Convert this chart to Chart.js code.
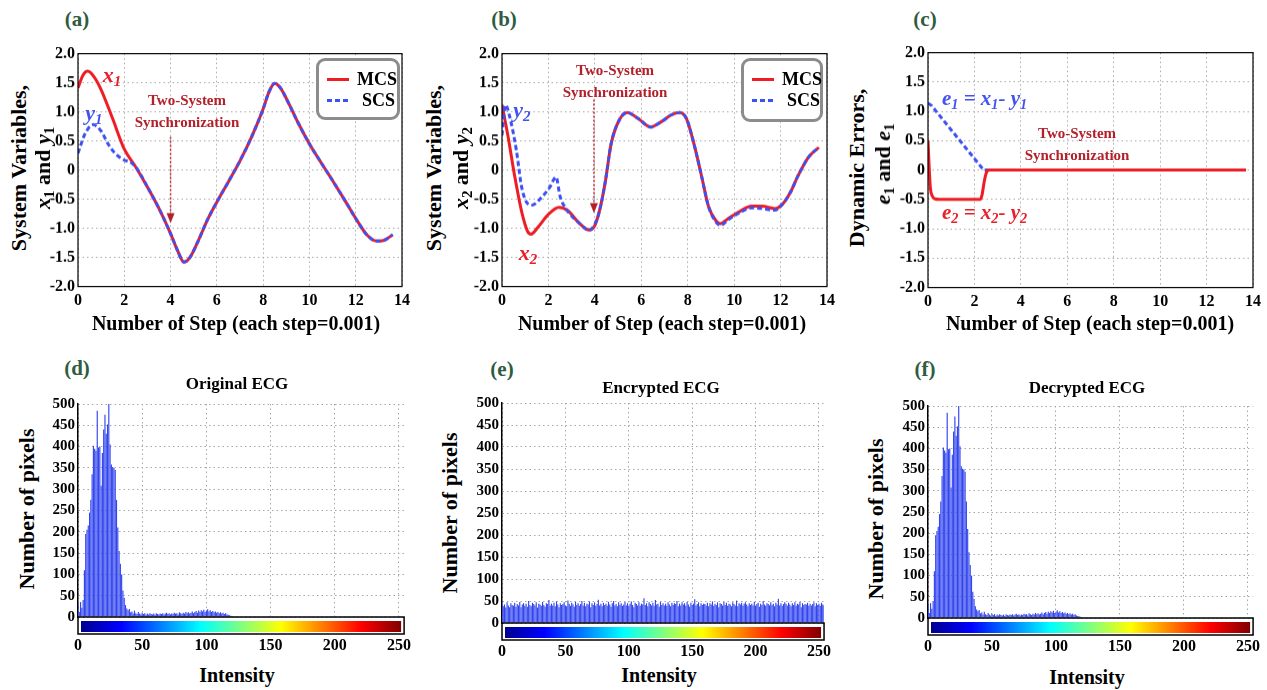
<!DOCTYPE html>
<html>
<head>
<meta charset="utf-8">
<title>Two-system synchronization and ECG histograms</title>
<script src="https://cdn.jsdelivr.net/npm/chart.js@4.4.1/dist/chart.umd.min.js"></script>
<style>
	body { margin: 0; width: 1267px; height: 690px; position: relative; overflow: hidden; background: #fff; font-family: 'Liberation Serif', 'Times New Roman', serif; }
	.wrap { position: absolute; }
	.txt { position: absolute; white-space: nowrap; font-weight: bold; line-height: 1; color: #000; transform: translate(-50%, -50%); }
	.txt.left { transform: translate(0, -50%); }
	.txt.rot { transform: translate(-50%, -50%) rotate(-90deg); }
	.tag { font-size: 21px; color: #2f5b3f; }
	.ytitle { font-size: 22px; }
	.xtitle { font-size: 20px; }
	.htitle { font-size: 17px; }
	.sync { font-size: 15px; color: #b3202a; }
	.red { color: #e8202a; font-style: italic; font-size: 22px; }
	.blue { color: #4152f0; font-style: italic; font-size: 22px; }
	.eq { font-size: 21px; }
	sub { font-size: 68%; vertical-align: -0.3em; line-height: 0; }
	.legend { position: absolute; box-sizing: border-box; border: 3px solid #8c8c8c; border-radius: 9px; background: #fff; }
	.legend .sw { position: absolute; left: 8px; width: 22px; height: 3px; }
	.legend .lab { position: absolute; font-size: 18px; font-weight: bold; line-height: 1; transform: translateY(-50%); }
</style>
</head>
<body>
<div class="wrap" id="panel-a"><canvas></canvas></div>
<div class="wrap" id="panel-b"><canvas></canvas></div>
<div class="wrap" id="panel-c"><canvas></canvas></div>
<div class="wrap" id="panel-d"><canvas></canvas></div>
<div class="wrap" id="panel-e"><canvas></canvas></div>
<div class="wrap" id="panel-f"><canvas></canvas></div>

<!-- Panel letters -->
<div class="txt tag" style="left:77px;top:19px">(a)</div>
<div class="txt tag" style="left:504px;top:19px">(b)</div>
<div class="txt tag" style="left:925px;top:19px">(c)</div>
<div class="txt tag" style="left:77px;top:368px">(d)</div>
<div class="txt tag" style="left:502px;top:369px">(e)</div>
<div class="txt tag" style="left:925px;top:369px">(f)</div>

<!-- Axis titles, top row -->
<div class="txt rot ytitle" style="left:19px;top:168px">System Variables,</div>
<div class="txt rot ytitle" style="left:43px;top:168px"><i>x</i><sub>1</sub> and <i>y</i><sub>1</sub></div>
<div class="txt rot ytitle" style="left:434px;top:168px">System Variables,</div>
<div class="txt rot ytitle" style="left:461px;top:168px"><i>x</i><sub>2</sub> and <i>y</i><sub>2</sub></div>
<div class="txt rot ytitle" style="left:857px;top:168px">Dynamic Errors,</div>
<div class="txt rot ytitle" style="left:883px;top:164px"><i>e</i><sub>1</sub> and <i>e</i><sub>1</sub></div>
<div class="txt xtitle" style="left:236px;top:323px">Number of Step (each step=0.001)</div>
<div class="txt xtitle" style="left:662px;top:323px">Number of Step (each step=0.001)</div>
<div class="txt xtitle" style="left:1090px;top:323px">Number of Step (each step=0.001)</div>

<!-- Titles, bottom row -->
<div class="txt htitle" style="left:237px;top:383px">Original ECG</div>
<div class="txt htitle" style="left:661px;top:387px">Encrypted ECG</div>
<div class="txt htitle" style="left:1087px;top:387px">Decrypted ECG</div>
<div class="txt rot ytitle" style="left:27px;top:509px">Number of pixels</div>
<div class="txt rot ytitle" style="left:450px;top:513px">Number of pixels</div>
<div class="txt rot ytitle" style="left:876px;top:519px">Number of pixels</div>
<div class="txt xtitle" style="left:237px;top:675px">Intensity</div>
<div class="txt xtitle" style="left:659px;top:675px">Intensity</div>
<div class="txt xtitle" style="left:1087px;top:677px">Intensity</div>

<script>
// Tick labels
const stepTicks = [0, 2, 4, 6, 8, 10, 12, 14];
const variableTicks = [-2, -1.5, -1, -0.5, 0, 0.5, 1, 1.5, 2];
const intensityTicks = [0, 50, 100, 150, 200, 250];
const pixelTicks = [0, 50, 100, 150, 200, 250, 300, 350, 400, 450, 500];

// Panel (a): x1 (MCS) and y1 (SCS)
const x1Steps = [0, 0.2, 0.42, 0.7, 1.0, 1.5, 2.0, 2.5, 3.0, 3.5, 4.0, 4.3, 4.58, 4.85, 5.2, 5.6, 6.0, 6.5, 7.0, 7.5, 8.0, 8.25, 8.5, 8.75, 9.1, 9.5, 10.0, 10.5, 11.0, 11.5, 12.0, 12.5, 12.9, 13.2, 13.6];
const x1Values = [1.41, 1.62, 1.70, 1.60, 1.38, 0.88, 0.36, 0.05, -0.29, -0.66, -1.09, -1.38, -1.58, -1.49, -1.21, -0.85, -0.55, -0.2, 0.16, 0.57, 1.05, 1.34, 1.49, 1.41, 1.15, 0.82, 0.45, 0.13, -0.18, -0.5, -0.83, -1.12, -1.22, -1.21, -1.11];
const y1Steps = [0, 0.3, 0.65, 1.0, 1.3, 1.6, 2.0, 2.25, 2.5, 3.0, 3.5, 4.0, 4.3, 4.58, 4.85, 5.2, 5.6, 6.0, 6.5, 7.0, 7.5, 8.0, 8.25, 8.5, 8.75, 9.1, 9.5, 10.0, 10.5, 11.0, 11.5, 12.0, 12.5, 12.9, 13.2, 13.6];
const y1Values = [0.29, 0.62, 0.78, 0.67, 0.45, 0.29, 0.17, 0.14, 0.05, -0.29, -0.66, -1.09, -1.38, -1.58, -1.49, -1.21, -0.85, -0.55, -0.2, 0.16, 0.57, 1.05, 1.34, 1.49, 1.41, 1.15, 0.82, 0.45, 0.13, -0.18, -0.5, -0.83, -1.12, -1.22, -1.21, -1.11];

// Panel (b): x2 (MCS) and y2 (SCS)
const x2Steps = [0, 0.25, 0.55, 0.85, 1.1, 1.25, 1.55, 2.0, 2.45, 2.85, 3.3, 3.75, 4.0, 4.2, 4.45, 4.7, 5.05, 5.4, 5.85, 6.4, 6.9, 7.3, 7.65, 7.95, 8.3, 8.6, 8.9, 9.2, 9.4, 9.75, 10.2, 10.75, 11.2, 11.75, 12.05, 12.4, 12.75, 13.2, 13.65];
const x2Values = [1.12, 0.6, -0.11, -0.72, -1.05, -1.1, -0.98, -0.76, -0.64, -0.7, -0.9, -1.03, -0.95, -0.7, -0.2, 0.45, 0.86, 0.99, 0.89, 0.74, 0.84, 0.95, 0.99, 0.88, 0.4, -0.11, -0.63, -0.86, -0.92, -0.83, -0.72, -0.62, -0.62, -0.66, -0.6, -0.4, -0.1, 0.22, 0.39];
const y2Steps = [0, 0.15, 0.33, 0.62, 0.85, 1.15, 1.3, 1.7, 2.05, 2.33, 2.5, 2.75, 3.3, 3.75, 4.0, 4.2, 4.45, 4.7, 5.05, 5.4, 5.85, 6.4, 6.9, 7.3, 7.65, 7.95, 8.3, 8.6, 8.9, 9.2, 9.4, 9.75, 10.2, 10.75, 11.2, 11.75, 12.05, 12.4, 12.75, 13.2, 13.65];
const y2Values = [0.6, 1.12, 0.92, 0.34, -0.3, -0.59, -0.6, -0.47, -0.3, -0.12, -0.45, -0.66, -0.9, -1.03, -0.93, -0.7, -0.2, 0.45, 0.86, 0.99, 0.89, 0.74, 0.84, 0.95, 0.99, 0.88, 0.4, -0.11, -0.63, -0.88, -0.95, -0.85, -0.74, -0.65, -0.66, -0.69, -0.6, -0.4, -0.1, 0.22, 0.39];

// Panel (c): dynamic errors
const e1Steps = [0, 0.15, 2.4, 13.7];
const e1Values = [1.14, 1.1, 0.0, 0.0];
const e2Steps = [0, 0.05, 0.1, 0.18, 0.3, 0.5, 2.25, 2.33, 2.42, 2.52, 2.65, 13.7];
const e2Values = [0.5, 0.05, -0.3, -0.44, -0.49, -0.5, -0.5, -0.42, -0.2, -0.04, 0, 0];

// Histograms, one count per intensity level starting at 0
const originalCounts = [
	30, 12, 35, 22, 40, 110, 195, 205, 215, 245, 275, 335, 402, 395, 390, 484,
	398, 400, 308, 385, 440, 475, 430, 452, 500, 405, 358, 352, 350, 345, 275, 210,
	155, 125, 100, 62, 45, 28, 20, 16, 19, 11, 13, 8, 15, 9, 7, 12,
	8, 6, 10, 7, 9, 5, 8, 6, 9, 7, 6, 8, 5, 9, 7, 6,
	8, 7, 9, 6, 8, 10, 7, 9, 6, 8, 7, 10, 8, 9, 6, 11,
	9, 7, 10, 8, 12, 9, 11, 8, 10, 13, 9, 12, 14, 10, 15, 12,
	16, 13, 17, 12, 15, 18, 13, 16, 12, 14, 11, 13, 10, 12, 9, 11,
	8, 10, 7, 9, 6, 5, 4, 3, 2, 2, 1, 1,
];
const encryptedCounts = [
	44, 38, 42, 35, 47, 40, 36, 45, 41, 39, 46, 37, 43, 40, 48, 36,
	42, 45, 39, 44, 37, 50, 41, 38, 46, 43, 40, 47, 35, 44, 42, 39,
	48, 41, 37, 45, 43, 52, 39, 44, 40, 46, 38, 49, 42, 36, 45, 41,
	43, 47, 40, 38, 51, 44, 39, 46, 42, 37, 48, 41, 45, 39, 43, 50,
	40, 46, 38, 44, 42, 49, 36, 45, 41, 47, 39, 43, 53, 40, 44, 38,
	46, 41, 44, 39, 48, 42, 37, 45, 50, 40, 43, 38, 47, 41, 45, 39,
	42, 48, 40, 45, 38, 44, 49, 41, 36, 46, 43, 40, 47, 39, 44, 42,
	56, 41, 45, 38, 47, 43, 40, 46, 39, 52, 42, 44, 37, 48, 41, 45,
	40, 44, 39, 47, 42, 38, 46, 41, 45, 43, 50, 38, 44, 40, 47, 42,
	45, 39, 48, 42, 37, 46, 41, 44, 54, 40, 43, 47, 38, 45, 41, 44,
	43, 40, 46, 38, 45, 42, 49, 39, 44, 41, 47, 36, 45, 43, 40, 48,
	41, 46, 39, 44, 42, 38, 47, 43, 40, 51, 38, 45, 42, 46, 39, 44,
	47, 42, 38, 45, 41, 44, 40, 48, 39, 43, 46, 37, 44, 41, 50, 42,
	39, 45, 43, 40, 47, 41, 44, 38, 46, 42, 55, 40, 45, 39, 43, 47,
	44, 40, 46, 42, 38, 45, 41, 47, 39, 44, 42, 48, 36, 45, 41, 43,
	42, 46, 39, 44, 40, 43, 47, 38, 45, 41, 44, 39, 46, 42, 40, 45,
];
// lossless scheme: the decrypted histogram is the original one
const decryptedCounts = originalCounts;

// Colours
const mcsRed = '#ee1c24';
const scsBlue = '#3d50f2';
const barBlue = '#3346ee';
const serif = "'Liberation Serif', 'Times New Roman', serif";

const toPoints = (xs, ys) => xs.map((x, i) => ({ x: x, y: ys[i] }));
const useTicks = (list) => (scale) => {
	scale.ticks = list.map((v) => ({ value: v }));
};

// Black box round the plot area
const framePlugin = {
	id: 'frame',
	afterDatasetsDraw(chart) {
		const { ctx, chartArea: a } = chart;
		ctx.save();
		ctx.strokeStyle = '#000';
		ctx.lineWidth = 1.2;
		ctx.strokeRect(a.left, a.top, a.right - a.left, a.bottom - a.top);
		ctx.restore();
	},
};

// Dotted arrow pointing at the synchronization moment
const arrowPlugin = {
	id: 'arrow',
	afterDatasetsDraw(chart, args, opts) {
		if (opts.at === undefined) return;
		const { ctx, scales } = chart;
		const x = scales.x.getPixelForValue(opts.at);
		const yFrom = scales.y.getPixelForValue(opts.from);
		const yTo = scales.y.getPixelForValue(opts.to);
		ctx.save();
		ctx.strokeStyle = '#b3202a';
		ctx.fillStyle = '#b3202a';
		ctx.lineWidth = 1.5;
		ctx.setLineDash([2, 2]);
		ctx.beginPath();
		ctx.moveTo(x, yFrom);
		ctx.lineTo(x, yTo - 8);
		ctx.stroke();
		ctx.setLineDash([]);
		ctx.beginPath();
		ctx.moveTo(x - 4, yTo - 10);
		ctx.lineTo(x + 4, yTo - 10);
		ctx.lineTo(x, yTo);
		ctx.closePath();
		ctx.fill();
		ctx.restore();
	},
};

// Jet colour bar under the histogram
const colorbarPlugin = {
	id: 'colorbar',
	afterDraw(chart) {
		const { ctx, chartArea: a } = chart;
		const h = 17;
		const jet = [
			[0, '#00008f'],
			[0.125, '#0000ff'],
			[0.375, '#00ffff'],
			[0.625, '#ffff00'],
			[0.875, '#ff0000'],
			[1, '#800000'],
		];
		ctx.save();
		const g = ctx.createLinearGradient(a.left + 3, 0, a.right - 3, 0);
		jet.forEach((s) => g.addColorStop(s[0], s[1]));
		ctx.fillStyle = g;
		ctx.fillRect(a.left + 3, a.bottom + 4, a.right - a.left - 6, h - 6);
		ctx.strokeStyle = '#000';
		ctx.lineWidth = 1.5;
		ctx.strokeRect(a.left, a.bottom, a.right - a.left, h);
		ctx.restore();
	},
};

const gridStyle = { color: '#a8a8a8', lineWidth: 1, drawTicks: false };
const gridBorder = { display: false, dash: [1.5, 3] };

function lineConfig(datasets, arrow) {
	return {
		type: 'line',
		data: { datasets: datasets },
		options: {
			responsive: true,
			maintainAspectRatio: false,
			animation: false,
			layout: { padding: { top: 2, right: 2, bottom: 0, left: 0 } },
			elements: {
				point: { radius: 0 },
				line: { cubicInterpolationMode: 'monotone' },
			},
			plugins: {
				legend: { display: false },
				tooltip: { enabled: false },
				arrow: arrow || {},
			},
			scales: {
				x: {
					type: 'linear',
					min: 0,
					max: 14,
					afterBuildTicks: useTicks(stepTicks),
					afterFit: (s) => {
						s.height = 30;
					},
					grid: gridStyle,
					border: gridBorder,
					ticks: { color: '#000', padding: 5, maxRotation: 0, font: { family: serif, size: 16, weight: 'bold' } },
				},
				y: {
					type: 'linear',
					min: -2,
					max: 2,
					afterBuildTicks: useTicks(variableTicks),
					afterFit: (s) => {
						s.width = 40;
					},
					grid: gridStyle,
					border: gridBorder,
					ticks: {
						color: '#000',
						padding: 3,
						font: { family: serif, size: 16, weight: 'bold' },
						callback: (v) => (v === 0 ? '0' : v.toFixed(1)),
					},
				},
			},
		},
		plugins: [framePlugin, arrowPlugin],
	};
}

function histConfig(counts) {
	return {
		type: 'bar',
		data: {
			datasets: [
				{
					data: counts.map((c, i) => ({ x: i, y: c })),
					backgroundColor: barBlue,
					borderWidth: 0,
					barPercentage: 0.9,
					categoryPercentage: 1,
				},
			],
		},
		options: {
			responsive: true,
			maintainAspectRatio: false,
			animation: false,
			layout: { padding: { top: 2, right: 2, bottom: 0, left: 0 } },
			plugins: { legend: { display: false }, tooltip: { enabled: false } },
			scales: {
				x: {
					type: 'linear',
					min: 0,
					max: 254,
					offset: false,
					afterBuildTicks: useTicks(intensityTicks),
					afterFit: (s) => {
						s.height = 40;
					},
					grid: { color: '#a8a8a8', drawTicks: false, offset: false },
					border: gridBorder,
					ticks: { color: '#000', padding: 19, maxRotation: 0, font: { family: serif, size: 16, weight: 'bold' } },
				},
				y: {
					min: 0,
					max: 500,
					afterBuildTicks: useTicks(pixelTicks),
					afterFit: (s) => {
						s.width = 38;
					},
					grid: gridStyle,
					border: { display: true, color: '#000', width: 1.5, dash: [1.5, 3] },
					ticks: { color: '#000', padding: 3, font: { family: serif, size: 15, weight: 'bold' } },
				},
			},
		},
		plugins: [colorbarPlugin],
	};
}

// Create a chart, then move and size its wrapper so the plot area sits on box
function placeChart(id, box, config) {
	const wrap = document.getElementById(id);
	wrap.style.left = box.l - 40 + 'px';
	wrap.style.top = box.t - 10 + 'px';
	wrap.style.width = box.r - box.l + 60 + 'px';
	wrap.style.height = box.b - box.t + 60 + 'px';
	const chart = new Chart(wrap.querySelector('canvas'), config);
	const a = chart.chartArea;
	const padL = a.left;
	const padT = a.top;
	const padR = chart.width - a.right;
	const padB = chart.height - a.bottom;
	wrap.style.left = box.l - padL + 'px';
	wrap.style.top = box.t - padT + 'px';
	wrap.style.width = box.r - box.l + padL + padR + 'px';
	wrap.style.height = box.b - box.t + padT + padB + 'px';
	chart.resize();
	chart.wrapLeft = box.l - padL;
	chart.wrapTop = box.t - padT;
	return chart;
}

// Text placed at data coordinates of a chart
function addNote(chart, x, y, html, cls) {
	const el = document.createElement('div');
	el.className = 'txt ' + cls;
	el.innerHTML = html;
	el.style.left = chart.wrapLeft + chart.scales.x.getPixelForValue(x) + 'px';
	el.style.top = chart.wrapTop + chart.scales.y.getPixelForValue(y) + 'px';
	document.body.appendChild(el);
}

function addLegend(left, top, width, height) {
	const box = document.createElement('div');
	box.className = 'legend';
	box.style.left = left + 'px';
	box.style.top = top + 'px';
	box.style.width = width + 'px';
	box.style.height = height + 'px';
	box.innerHTML =
		'<span class="sw" style="top:17px;background:' + mcsRed + '"></span>' +
		'<span class="lab" style="left:38px;top:18px">MCS</span>' +
		'<span class="sw" style="top:38px;background:repeating-linear-gradient(90deg,' + scsBlue + ' 0 5px,transparent 5px 8px)"></span>' +
		'<span class="lab" style="left:43px;top:39px">SCS</span>';
	document.body.appendChild(box);
}

const mcsStyle = { borderColor: mcsRed, borderWidth: 3, order: 1 };
const scsStyle = { borderColor: scsBlue, borderWidth: 3, borderDash: [5, 3], order: 0 };

// (a)
const chartA = placeChart(
	'panel-a',
	{ l: 78, t: 54, r: 402, b: 286 },
	lineConfig(
		[
			{ label: 'MCS', data: toPoints(x1Steps, x1Values), ...mcsStyle },
			{ label: 'SCS', data: toPoints(y1Steps, y1Values), ...scsStyle },
		],
		{ at: 4, from: 0.57, to: -0.91 },
	),
);
addNote(chartA, 1.47, 1.64, 'x<sub>1</sub>', 'red');
addNote(chartA, 0.69, 0.98, 'y<sub>1</sub>', 'blue');
addNote(chartA, 4.71, 1.21, 'Two-System', 'sync');
addNote(chartA, 4.71, 0.83, 'Synchronization', 'sync');
addLegend(316, 58, 84, 62);

// (b)
const chartB = placeChart(
	'panel-b',
	{ l: 502, t: 54, r: 827, b: 286 },
	lineConfig(
		[
			{ label: 'MCS', data: toPoints(x2Steps, x2Values), ...mcsStyle },
			{ label: 'SCS', data: toPoints(y2Steps, y2Values), ...scsStyle },
		],
		{ at: 3.96, from: 1.21, to: -0.74 },
	),
);
addNote(chartB, 0.86, 1.03, 'y<sub>2</sub>', 'blue');
addNote(chartB, 1.12, -1.43, 'x<sub>2</sub>', 'red');
addNote(chartB, 4.87, 1.72, 'Two-System', 'sync');
addNote(chartB, 4.87, 1.34, 'Synchronization', 'sync');
addLegend(741, 58, 82, 64);

// (c)
const chartC = placeChart(
	'panel-c',
	{ l: 928, t: 53, r: 1253, b: 287 },
	lineConfig([
		{ label: 'e2', data: toPoints(e2Steps, e2Values), borderColor: mcsRed, borderWidth: 3, order: 0 },
		{ label: 'e1', data: toPoints(e1Steps, e1Values), borderColor: scsBlue, borderWidth: 3, borderDash: [5, 3], cubicInterpolationMode: 'default', tension: 0, order: 1 },
	]),
);
addNote(chartC, 0.6, 1.23, 'e<sub>1</sub> = x<sub>1</sub>- y<sub>1</sub>', 'blue eq left');
addNote(chartC, 6.42, 0.63, 'Two-System', 'sync');
addNote(chartC, 6.42, 0.26, 'Synchronization', 'sync');
addNote(chartC, 0.6, -0.72, 'e<sub>2</sub> = x<sub>2</sub>- y<sub>2</sub>', 'red eq left');

// (d), (e), (f)
placeChart('panel-d', { l: 78, t: 404, r: 404, b: 617 }, histConfig(originalCounts));
placeChart('panel-e', { l: 502, t: 403, r: 824, b: 623 }, histConfig(encryptedCounts));
placeChart('panel-f', { l: 928, t: 406, r: 1253, b: 618 }, histConfig(decryptedCounts));
</script>
</body>
</html>
